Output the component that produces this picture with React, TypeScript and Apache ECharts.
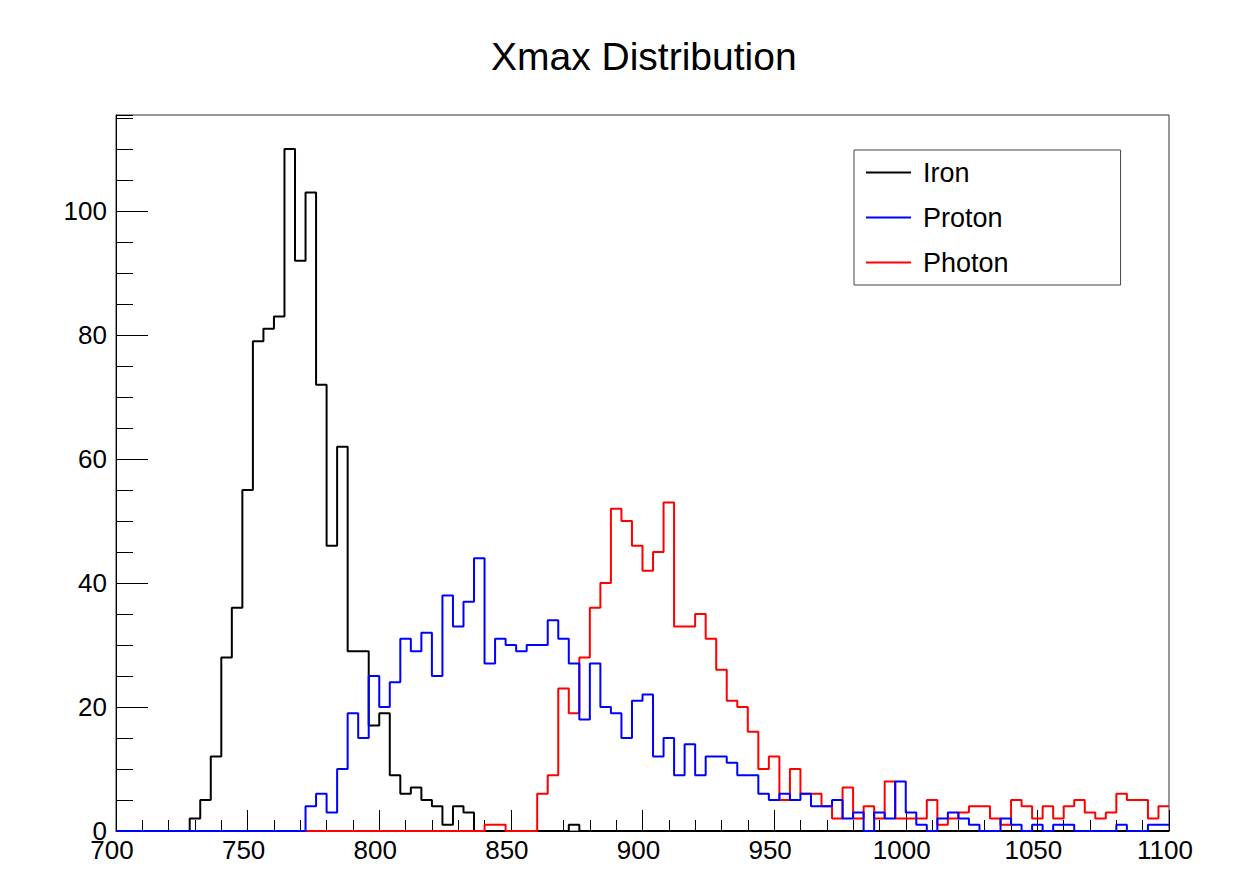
import React, { useEffect, useRef } from "react";
import * as echarts from "echarts";

const BIN_START = 700;
const BIN_WIDTH = 4;
const X_MIN = 700;
const X_MAX = 1100;
const Y_MAX = 115.5;

const chartTitle = "Xmax Distribution";
const seriesNames = ["Iron", "Proton", "Photon"];
const seriesColors = ["#000000", "#0000ff", "#ff0000"];

// counts per 4-unit bin, starting at 700
const ironCounts = [
  0, 0, 0, 0, 0, 0, 0, 2, 5, 12,
  28, 36, 55, 79, 81, 83, 110, 92, 103, 72,
  46, 62, 29, 29, 17, 19, 9, 6, 7, 5,
  4, 1, 4, 3, 0, 0, 0, 0, 0, 0,
  0, 0, 0, 1, 0, 0, 0, 0, 0, 0,
  0, 0, 0, 0, 0, 0, 0, 0, 0, 0,
  0, 0, 0, 0, 0, 0, 0, 0, 0, 0,
  0, 0, 0, 0, 0, 0, 0, 0, 0, 0,
  0, 0, 0, 0, 0, 0, 0, 0, 0, 0,
  0, 0, 0, 0, 0, 0, 0, 0, 0, 0,
];

const protonCounts = [
  0, 0, 0, 0, 0, 0, 0, 0, 0, 0,
  0, 0, 0, 0, 0, 0, 0, 0, 4, 6,
  3, 10, 19, 15, 25, 20, 24, 31, 29, 32,
  25, 38, 33, 37, 44, 27, 31, 30, 29, 30,
  30, 34, 31, 27, 18, 27, 20, 19, 15, 21,
  22, 12, 15, 9, 14, 9, 12, 12, 11, 9,
  9, 6, 5, 6, 5, 6, 4, 4, 5, 2,
  3, 0, 3, 2, 8, 3, 1, 0, 2, 3,
  2, 1, 0, 0, 2, 1, 0, 1, 0, 1,
  1, 0, 0, 0, 0, 1, 0, 0, 1, 1,
];

const photonCounts = [
  0, 0, 0, 0, 0, 0, 0, 0, 0, 0,
  0, 0, 0, 0, 0, 0, 0, 0, 0, 0,
  0, 0, 0, 0, 0, 0, 0, 0, 0, 0,
  0, 0, 0, 0, 0, 1, 1, 0, 0, 0,
  6, 9, 23, 19, 28, 36, 40, 52, 50, 46,
  42, 45, 53, 33, 33, 35, 31, 26, 21, 20,
  16, 10, 12, 5, 10, 6, 6, 4, 2, 7,
  2, 4, 2, 8, 2, 2, 2, 5, 1, 2,
  3, 4, 4, 2, 1, 5, 4, 2, 4, 2,
  4, 5, 3, 2, 3, 6, 5, 5, 2, 4,
];

const FONT = "'Liberation Sans', Arial, Helvetica, sans-serif";

function toSteps(counts: number[]): number[][] {
  const pts = counts.map((v, i) => [BIN_START + i * BIN_WIDTH, v]);
  pts.push([BIN_START + counts.length * BIN_WIDTH, counts[counts.length - 1]]);
  return pts;
}

function histSeries(name: string, color: string, counts: number[]) {
  return {
    name,
    type: "line",
    step: "end",
    showSymbol: false,
    symbol: "none",
    color,
    itemStyle: { color },
    lineStyle: { color, width: 2 },
    data: toSteps(counts),
    silent: true,
  };
}

export default function App() {
  const ref = useRef<HTMLDivElement>(null);

  useEffect(() => {
    if (!ref.current) return;
    const chart = echarts.init(ref.current, undefined, { renderer: "svg" });
    chart.setOption({
      animation: false,
      backgroundColor: "#ffffff",
      title: {
        text: chartTitle,
        left: 486,
        top: 32,
        textStyle: {
          fontSize: 39,
          fontWeight: "normal",
          color: "#000",
          fontFamily: FONT,
        },
      },
      legend: {
        orient: "vertical",
        left: 854,
        top: 150,
        data: seriesNames,
        icon: "rect",
        itemWidth: 45,
        itemHeight: 2,
        itemGap: 18,
        padding: [9, 112, 9, 12],
        borderColor: "#444",
        borderWidth: 1,
        backgroundColor: "#fff",
        textStyle: {
          fontSize: 27,
          lineHeight: 27,
          color: "#000",
          fontFamily: FONT,
          padding: [0, 0, 0, 7],
        },
      },
      grid: {
        left: 116,
        right: 67,
        top: 115,
        bottom: 41,
        show: true,
        borderColor: "#333",
        borderWidth: 1,
        containLabel: false,
        outerBoundsMode: "none",
      },
      xAxis: {
        type: "value",
        min: X_MIN,
        max: X_MAX,
        interval: 50,
        axisLine: { show: true, onZero: false, lineStyle: { color: "#000", width: 1 } },
        axisTick: { show: true, inside: true, length: 21, lineStyle: { color: "#000", width: 1 } },
        minorTick: { show: true, splitNumber: 5, length: 11, lineStyle: { color: "#000", width: 1 } },
        axisLabel: {
          fontSize: 26,
          color: "#000",
          margin: 6,
          padding: [0, 8, 0, 0],
          fontFamily: FONT,
          formatter: (v: number) => String(v),
        },
        splitLine: { show: false },
      },
      yAxis: [
        {
          type: "value",
          position: "left",
          min: 0,
          max: Y_MAX,
          interval: 20,
          axisLine: { show: true, onZero: false, lineStyle: { color: "#000", width: 1 } },
          axisTick: { show: true, inside: true, length: 32, lineStyle: { color: "#000", width: 1 } },
          axisLabel: {
            fontSize: 26,
            color: "#000",
            margin: 9,
            showMaxLabel: false,
            fontFamily: FONT,
            formatter: (v: number) => String(v),
          },
          splitLine: { show: false },
        },
        {
          type: "value",
          position: "left",
          offset: 0,
          min: 0,
          max: Y_MAX,
          interval: 5,
          axisLine: { show: false },
          axisTick: { show: true, inside: true, length: 17, lineStyle: { color: "#000", width: 1 } },
          axisLabel: { show: false },
          splitLine: { show: false },
        },
      ],
      series: [
        histSeries(seriesNames[0], seriesColors[0], ironCounts),
        histSeries(seriesNames[2], seriesColors[2], photonCounts),
        histSeries(seriesNames[1], seriesColors[1], protonCounts),
      ],
    });
    return () => {
      chart.dispose();
    };
  }, []);

  return (
    <div
      ref={ref}
      style={{ position: "absolute", left: 0, top: 0, width: 1236, height: 872 }}
    />
  );
}
